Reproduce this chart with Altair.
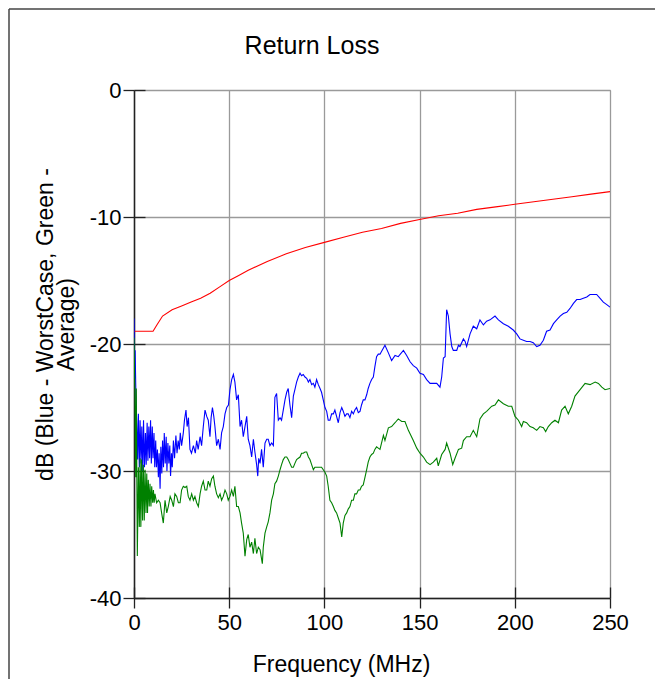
import altair as alt
import pandas as pd

# ---- data ----
red_f = [0, 10, 12, 15, 20, 25, 30, 35, 40, 45, 50, 55, 60, 70, 80, 90, 100, 110, 120, 130,
         140, 150, 160, 170, 180, 190, 200, 210, 220, 230, 240, 250]
red_db = [-19, -19, -18.5, -17.8, -17.3, -17.0, -16.7, -16.4, -16.0, -15.5, -15.0, -14.6, -14.2,
          -13.5, -12.9, -12.4, -12.0, -11.6, -11.2, -10.9, -10.5, -10.2, -9.9, -9.7, -9.4, -9.2,
          -9.0, -8.8, -8.6, -8.4, -8.2, -8.0]

blue_f = [0.0, 0.3, 0.6, 1.0, 1.4, 1.9, 2.3, 2.8, 3.2, 3.7, 4.1, 4.6, 5.0, 5.5, 6.0, 6.4, 6.9, 7.3,
          7.8, 8.2, 8.7, 9.1, 9.6, 10.0, 10.5, 10.9, 11.4, 11.8, 12.3, 12.8, 13.2, 13.7, 14.1, 14.6,
          15.0, 15.5, 15.9, 16.4, 16.9, 17.3, 17.8, 18.3, 18.8, 19.2, 19.7, 20.1, 20.7, 21.3, 22.0,
          22.6, 23.2, 23.8, 24.3, 25.0, 25.9, 26.5, 27.3, 27.9, 28.6, 29.4, 30.2, 31.2, 32.2, 32.9,
          33.7, 34.7, 35.5, 36.4, 37.3, 38.2, 39.0, 39.9, 40.5, 41.2, 41.9, 42.5, 43.4, 44.3, 45.2,
          46.0, 46.9, 47.8, 48.7, 49.6, 50.4, 51.3, 52.2, 53.0, 53.9, 54.8, 55.7, 56.5, 57.4, 58.3,
          59.2, 60.0, 60.9, 61.8, 62.7, 63.5, 64.4, 65.0, 65.5, 66.2, 67.0, 67.9, 68.8, 69.7, 70.5,
          71.4, 72.3, 73.2, 74.0, 74.9, 75.8, 76.7, 77.5, 78.4, 79.3, 80.2, 81.0, 81.9, 82.8, 83.7,
          84.5, 85.4, 86.3, 87.2, 88.0, 88.9, 89.8, 90.7, 91.6, 92.4, 93.3, 94.2, 95.0, 95.9, 96.8,
          97.7, 98.5, 99.4, 100.3, 101.2, 102.0, 102.9, 103.8, 104.7, 105.5, 106.4, 107.3, 108.2,
          109.1, 109.9, 110.8, 111.7, 112.5, 113.4, 114.3, 115.2, 116.0, 116.9, 117.8, 118.7, 119.5,
          120.4, 121.3, 122.2, 123.0, 123.9, 124.8, 125.7, 126.5, 127.4, 128.3, 129.2, 131.8, 133.6,
          135.3, 137.1, 138.8, 141.5, 143.2, 145.0, 146.7, 148.5, 150.2, 152.0, 153.7, 155.5, 157.2,
          159.0, 160.7, 161.6, 162.5, 163.4, 164.2, 165.1, 166.0, 166.9, 167.7, 169.5, 170.4, 171.2,
          173.0, 173.9, 174.7, 176.5, 178.2, 180.0, 181.7, 183.5, 185.2, 187.0, 189.6, 191.4, 194.0,
          196.6, 199.2, 201.0, 202.7, 204.5, 206.2, 208.0, 209.7, 211.5, 213.2, 215.0, 216.7, 218.5,
          220.3, 222.0, 223.8, 225.5, 227.3, 229.0, 230.8, 232.5, 234.3, 236.0, 237.8, 239.5, 241.3,
          243.0, 244.8, 246.5, 248.3, 250.0]
blue_db = [-18.0, -22.7, -20.5, -24.0, -26.0, -29.1, -25.5, -29.7, -26.0, -29.4, -26.5, -30.0,
           -26.0, -29.7, -27.0, -29.5, -26.2, -29.2, -26.5, -29.0, -26.0, -29.4, -26.5, -29.0, -27.0,
           -29.7, -27.6, -29.7, -28.3, -30.5, -28.6, -31.4, -28.1, -30.2, -27.6, -29.7, -27.0, -29.4,
           -27.3, -30.0, -27.8, -29.4, -28.0, -30.4, -28.6, -29.7, -27.6, -29.0, -27.2, -28.6, -27.6,
           -28.3, -27.0, -28.0, -27.0, -26.0, -25.2, -26.5, -25.8, -28.3, -28.6, -28.0, -28.6, -27.6,
           -28.3, -27.3, -28.0, -26.5, -25.2, -25.7, -26.0, -27.3, -25.8, -25.0, -25.7, -26.5, -28.0,
           -27.5, -28.3, -27.0, -26.5, -25.5, -25.0, -24.8, -23.6, -22.8, -22.4, -23.0, -24.4, -24.0,
           -26.5, -26.0, -27.3, -26.5, -25.7, -27.5, -28.0, -28.9, -27.5, -28.5, -29.5, -30.4, -29.0,
           -29.4, -28.3, -29.7, -27.8, -27.5, -27.5, -28.0, -27.8, -28.0, -24.2, -23.9, -26.0, -25.8,
           -26.0, -25.2, -24.4, -23.8, -23.5, -24.8, -25.8, -24.1, -23.6, -23.0, -22.6, -22.3, -22.5,
           -22.4, -22.6, -22.7, -23.0, -22.8, -23.2, -23.1, -23.4, -22.8, -23.2, -23.5, -23.8, -24.4,
           -25.0, -25.3, -26.0, -26.0, -25.5, -25.5, -25.2, -25.7, -26.2, -25.4, -25.0, -25.3, -25.7,
           -25.5, -25.5, -25.8, -25.3, -25.5, -25.2, -25.0, -25.4, -25.3, -24.8, -24.4, -24.4, -24.0,
           -23.5, -23.1, -22.8, -22.6, -21.8, -21.0, -20.8, -20.8, -20.1, -20.7, -21.3, -20.9, -21.0,
           -20.5, -20.9, -21.4, -21.7, -21.9, -22.3, -22.4, -22.8, -23.1, -23.1, -23.1, -23.4, -22.6,
           -21.1, -21.0, -17.3, -17.8, -19.2, -20.2, -20.5, -20.5, -20.1, -20.2, -19.6, -19.8, -20.2,
           -19.2, -18.6, -18.8, -18.1, -18.5, -18.2, -18.1, -17.8, -18.1, -18.4, -18.6, -18.9, -19.2,
           -19.6, -19.7, -19.8, -19.8, -19.9, -20.2, -20.1, -19.7, -19.0, -18.9, -18.4, -18.1, -17.8,
           -17.6, -17.5, -17.2, -16.8, -16.5, -16.5, -16.4, -16.3, -16.1, -16.1, -16.1, -16.4, -16.7,
           -16.9, -17.1]

green_f = [0.0, 0.5, 0.9, 1.2, 1.75, 2.3, 2.8, 3.2, 3.6, 4.0, 4.5, 4.9, 5.4, 5.8, 6.3, 6.7, 7.1,
           7.5, 8.0, 8.4, 8.9, 9.3, 9.8, 10.2, 10.6, 11.0, 11.9, 12.8, 13.7, 14.5, 15.4, 16.3, 17.2,
           18.0, 19.0, 19.8, 20.7, 21.5, 22.4, 23.3, 24.2, 25.0, 25.9, 26.8, 27.7, 28.5, 29.4, 30.3,
           31.2, 32.0, 32.9, 33.8, 34.7, 35.5, 36.4, 37.3, 38.2, 39.0, 39.9, 40.8, 41.7, 42.5, 43.4,
           44.3, 45.2, 46.0, 46.9, 47.8, 48.7, 49.5, 50.4, 51.3, 52.2, 53.0, 53.9, 54.8, 55.7, 56.5,
           57.4, 58.3, 59.2, 60.0, 60.9, 61.8, 62.7, 63.5, 64.4, 65.3, 66.2, 67.4, 67.9, 68.8, 69.7,
           70.5, 71.4, 72.3, 73.2, 74.0, 74.9, 75.8, 76.7, 77.5, 78.4, 79.3, 80.2, 81.0, 81.9, 82.8,
           83.7, 84.5, 85.4, 86.3, 87.2, 88.0, 88.9, 89.8, 90.7, 91.6, 92.4, 93.3, 94.2, 95.0, 95.9,
           96.8, 97.7, 98.5, 99.4, 100.3, 101.2, 102.0, 102.9, 103.8, 104.7, 105.5, 106.4, 107.3,
           108.2, 109.1, 109.9, 110.8, 111.7, 112.5, 113.4, 114.3, 115.2, 116.0, 116.9, 117.8, 118.7,
           119.5, 120.4, 121.3, 122.2, 123.0, 123.9, 124.8, 125.7, 126.5, 127.4, 128.3, 129.2, 131.0,
           131.8, 133.6, 135.3, 137.1, 138.8, 140.6, 142.3, 144.1, 146.7, 148.5, 150.2, 152.0, 153.7,
           155.5, 157.2, 159.0, 159.8, 161.6, 163.4, 164.2, 166.0, 167.4, 168.6, 170.4, 172.1, 173.0,
           174.7, 176.5, 178.2, 180.0, 181.7, 183.5, 185.2, 187.9, 189.6, 191.4, 194.0, 196.6, 198.4,
           200.1, 201.9, 203.6, 204.5, 206.2, 208.0, 209.7, 211.5, 213.2, 215.0, 216.2, 217.6, 219.4,
           221.1, 222.9, 224.6, 226.4, 228.1, 229.9, 231.6, 234.3, 236.9, 239.5, 242.2, 243.9, 245.7,
           247.4, 250.0]
green_db = [-19.5, -24.0, -30.5, -23.5, -36.7, -29.7, -34.4, -29.0, -34.4, -29.1, -33.9, -29.5,
            -33.9, -29.9, -33.3, -30.2, -33.3, -30.7, -32.8, -31.0, -32.8, -31.2, -32.5, -31.5, -32.5,
            -31.8, -32.5, -32.3, -32.5, -33.3, -34.1, -32.3, -33.3, -32.8, -32.0, -32.3, -32.8, -31.8,
            -32.0, -32.5, -32.5, -31.5, -31.2, -31.3, -31.2, -32.0, -32.3, -31.8, -32.3, -32.0, -32.5,
            -32.8, -31.8, -31.2, -30.8, -31.5, -31.5, -30.8, -31.2, -30.6, -30.4, -31.2, -31.8, -32.1,
            -31.8, -32.3, -32.0, -31.5, -31.8, -32.3, -32.0, -31.5, -32.0, -31.2, -32.8, -32.8, -33.3,
            -34.1, -34.9, -36.7, -35.4, -35.0, -36.0, -35.6, -36.5, -35.3, -36.5, -36.0, -36.2, -37.3,
            -36.0, -34.9, -34.4, -34.0, -33.3, -32.3, -31.8, -31.0, -30.8, -30.4, -29.9, -29.5, -29.1,
            -28.9, -28.9, -29.1, -29.4, -29.7, -29.7, -29.4, -29.1, -29.0, -28.9, -28.6, -28.6, -28.5,
            -28.5, -28.9, -29.1, -29.5, -29.9, -29.7, -29.7, -29.7, -29.7, -29.7, -29.9, -30.1, -30.4,
            -31.2, -32.3, -32.5, -32.8, -33.1, -33.3, -33.7, -34.1, -35.2, -34.1, -33.5, -33.3, -33.0,
            -32.8, -32.3, -32.3, -31.8, -31.8, -31.5, -31.5, -31.2, -31.1, -30.5, -29.9, -29.3, -28.9,
            -28.7, -28.6, -28.3, -28.1, -28.2, -28.3, -27.2, -27.6, -26.6, -26.5, -26.2, -25.9, -26.1,
            -26.1, -26.8, -27.6, -28.2, -28.6, -28.9, -29.3, -29.5, -29.3, -29.0, -29.6, -28.7, -28.3,
            -27.8, -28.6, -29.5, -29.0, -28.3, -28.2, -27.6, -27.3, -27.3, -26.8, -27.3, -25.9, -25.5,
            -25.3, -24.9, -24.8, -24.4, -24.7, -24.9, -24.9, -25.7, -26.0, -26.5, -26.1, -26.2, -26.5,
            -26.6, -26.8, -26.5, -26.6, -26.9, -26.5, -26.2, -26.0, -26.2, -25.2, -24.9, -25.5, -24.9,
            -24.1, -23.6, -23.1, -23.2, -23.0, -23.1, -23.4, -23.6, -23.5]

x_ticks = [0, 50, 100, 150, 200, 250]
y_ticks = [0, -10, -20, -30, -40]
series_names = ["Limit", "WorstCase", "Average"]
series_colors = ["#ff0000", "#0000ff", "#008000"]

rows = []
for name, fs, vs in [("Limit", red_f, red_db), ("WorstCase", blue_f, blue_db), ("Average", green_f, green_db)]:
    for f, v in zip(fs, vs):
        rows.append({"series": name, "f": f, "db": v})
df = pd.DataFrame(rows)

FONT = "Liberation Sans"
xscale = alt.Scale(domain=[0, 250], nice=False, zero=False)
yscale = alt.Scale(domain=[-40, 0], nice=False, zero=False)

lines = alt.Chart(df).mark_line(strokeWidth=1.1, clip=True).encode(
    x=alt.X("f:Q", scale=xscale,
            axis=alt.Axis(values=x_ticks, orient="bottom", title="Frequency (MHz)",
                          titleX=207, titleY=73, titleBaseline="alphabetic", titleAlign="center",
                          titleFontSize=23, titleFontWeight="normal", titleFont=FONT, titleColor="#000000",
                          labelFont=FONT, labelFontSize=22, labelColor="#000000", labelPadding=4,
                          labelExpr="datum.value + ''",
                          tickSize=10, tickColor="#222222", tickWidth=1.3,
                          domainColor="#222222", domainWidth=1.5,
                          grid=True, gridColor="#9a9a9a", gridWidth=1.3, labelFlush=False)),
    y=alt.Y("db:Q", scale=yscale,
            axis=alt.Axis(values=y_ticks, orient="left",
                          title=["dB (Blue - WorstCase, Green -", "Average)"],
                          titleX=-77, titleY=234, titleAngle=270, titleAlign="center",
                          titleBaseline="bottom", titleLineHeight=21,
                          titleFontSize=23, titleFontWeight="normal", titleFont=FONT, titleColor="#000000",
                          labelFont=FONT, labelFontSize=22, labelColor="#000000", labelPadding=2,
                          labelExpr="datum.value + ''",
                          tickSize=11, tickColor="#222222", tickWidth=1.3,
                          domainColor="#222222", domainWidth=1.5,
                          grid=True, gridColor="#9a9a9a", gridWidth=1.3, labelFlush=False)),
    color=alt.Color("series:N", scale=alt.Scale(domain=series_names, range=series_colors), legend=None),
)

inner = alt.Chart(df).mark_line(opacity=0).encode(
    x=alt.X("f:Q", scale=xscale,
            axis=alt.Axis(values=x_ticks, orient="bottom", offset=-11, tickSize=11, labels=False,
                          domain=False, grid=False, title="", tickColor="#222222", tickWidth=1.3)),
    y=alt.Y("db:Q", scale=yscale,
            axis=alt.Axis(values=y_ticks, orient="left", offset=-11, tickSize=11, labels=False,
                          domain=False, grid=False, title="", tickColor="#222222", tickWidth=1.3)),
)

frame_df = pd.DataFrame({"k": [0]})
frame_left = alt.Chart(frame_df).mark_rule(color="#444444", strokeWidth=1.5).encode(
    x=alt.value(-125), x2=alt.value(-125), y=alt.value(-81), y2=alt.value(700))
frame_top = alt.Chart(frame_df).mark_rule(color="#444444", strokeWidth=1.5).encode(
    x=alt.value(-125), x2=alt.value(540), y=alt.value(-81))

chart = alt.layer(lines, inner, frame_left, frame_top).resolve_axis(
    x="independent", y="independent"
).properties(
    width=476, height=508,
    autosize=alt.AutoSizeParams(type="none"),
    padding={"left": 126, "top": 82, "right": 45, "bottom": 81},
    title=alt.TitleParams("Return Loss", font=FONT, fontSize=25, fontWeight="normal", color="#000000",
                          anchor="middle", dx=-60, offset=-50.5, frame="group"),
).configure_view(stroke="#9a9a9a")

chart.save("out.html", embed_options={"renderer": "svg", "actions": False})
